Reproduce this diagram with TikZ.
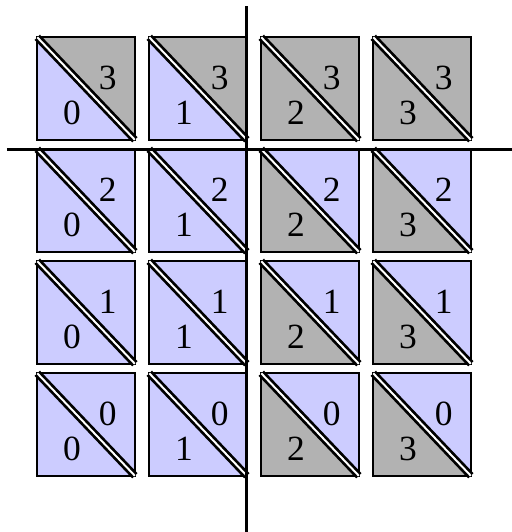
\documentclass[tikz,border=0pt]{standalone}
\usepackage{fontspec}
\setmainfont{Liberation Serif}
\begin{document}
\begin{tikzpicture}[font=\fontsize{9}{11}\selectfont]
  \useasboundingbox (0,0) rectangle (4.571,4.75);
  \foreach \c in {0,...,3} {
    \foreach \r in {0,...,3} {
      \pgfmathsetmacro{\xa}{0.333+\c}
      \pgfmathsetmacro{\xb}{\xa+0.871}
      \pgfmathsetmacro{\ya}{0.502+\r}
      \pgfmathsetmacro{\yb}{\ya+0.915}
      \def\lowcol{blue!20}\ifnum\c>1 \def\lowcol{gray!60}\fi
      \def\upcol{blue!20}\ifnum\r=3 \def\upcol{gray!60}\fi
      \fill[\lowcol] (\xa,\yb) -- (\xa,\ya) -- (\xb,\ya) -- cycle;
      \fill[\upcol] (\xa,\yb) -- (\xb,\yb) -- (\xb,\ya) -- cycle;
      \draw[line width=0.6pt] (\xa,\ya) rectangle (\xb,\yb);
      \draw[double,line width=0.7pt,double distance=0.5pt] (\xa,\yb) -- (\xb,\ya);
      \node (lo-\c-\r) at (\xa+0.31,\ya+0.24) {\c};
      \node (up-\c-\r) at (\xa+0.63,\ya+0.55) {\r};
    }
  }
  \draw[line width=0.85pt] (2.2,0) -- (2.2,4.696);
  \draw[line width=0.85pt] (0.0625,3.417) -- (4.571,3.417);
\end{tikzpicture}
\end{document}
